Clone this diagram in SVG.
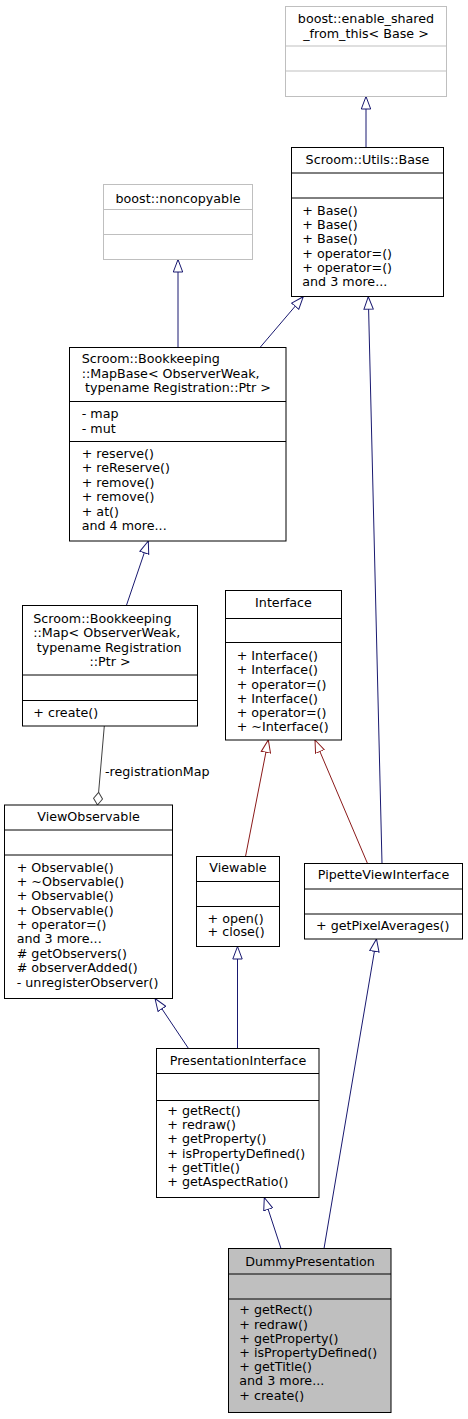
<svg xmlns="http://www.w3.org/2000/svg" width="468" height="1419" viewBox="0 0 468 1419">
<style>
  text { font-family: "DejaVu Sans", "Liberation Sans", sans-serif; font-size: 12.7px; fill: #000; }
  .c { text-anchor: middle; }
  .box { fill: #fff; stroke: #000; stroke-width: 1; }
  .gbox { fill: #fff; stroke: #bfbfbf; stroke-width: 1; }
  .sel { fill: #bfbfbf; stroke: #000; stroke-width: 1; }
  .sep { stroke: #000; stroke-width: 1; }
  .gsep { stroke: #bfbfbf; stroke-width: 1; }
  .pub { fill: none; stroke: #191970; stroke-width: 1; marker-end: url(#triBlue); }
  .prv { fill: none; stroke: #8b1a1a; stroke-width: 1; marker-end: url(#triRed); }
  .use { fill: none; stroke: #404040; stroke-width: 1; marker-end: url(#diamond); }
</style>
<defs>
  <marker id="triBlue" viewBox="0 0 14 11" refX="13" refY="5.5" markerWidth="14" markerHeight="11" markerUnits="userSpaceOnUse" orient="auto">
    <path d="M0.5,0.8 L13,5.5 L0.5,10.2 z" fill="#fff" stroke="#191970" stroke-width="1"/>
  </marker>
  <marker id="triRed" viewBox="0 0 14 11" refX="13" refY="5.5" markerWidth="14" markerHeight="11" markerUnits="userSpaceOnUse" orient="auto">
    <path d="M0.5,0.8 L13,5.5 L0.5,10.2 z" fill="#fff" stroke="#8b1a1a" stroke-width="1"/>
  </marker>
  <marker id="diamond" viewBox="0 0 14 11" refX="13.2" refY="5.5" markerWidth="14" markerHeight="11" markerUnits="userSpaceOnUse" orient="auto">
    <path d="M0.5,5.5 L6.8,1 L13.2,5.5 L6.8,10 z" fill="#fff" stroke="#404040" stroke-width="1"/>
  </marker>
</defs>

<g id="connectors">
  <path class="pub" d="M366,147.5 L366,96.5"/>
  <path class="pub" d="M178,347.5 L178,259.5"/>
  <path class="pub" d="M260,347.5 L303.3,296.7"/>
  <path class="pub" d="M382,863.5 L368.3,296.7"/>
  <path class="pub" d="M126.4,605.5 L148.3,541"/>
  <path class="use" d="M104.3,726 L97.5,805"/>
  <text x="105" y="775.5">-registrationMap</text>
  <path class="prv" d="M245.5,856.5 L268.3,740"/>
  <path class="prv" d="M367.5,863.5 L315,740"/>
  <path class="pub" d="M188.5,1048.5 L155,998.5"/>
  <path class="pub" d="M237.5,1048.5 L237.5,946.5"/>
  <path class="pub" d="M281,1248.5 L264.3,1197.5"/>
  <path class="pub" d="M324,1248.5 L376.5,939"/>
</g>

<g id="enable_shared_from_this">
  <rect class="gbox" x="285.5" y="6.5" width="161" height="90"/>
  <line class="gsep" x1="285.5" y1="46" x2="446.5" y2="46"/>
  <line class="gsep" x1="285.5" y1="71" x2="446.5" y2="71"/>
  <text class="c" x="366" y="22.5">boost::enable_shared</text>
  <text class="c" x="366" y="37.5">_from_this&lt; Base &gt;</text>
</g>

<g id="Base">
  <rect class="box" x="291.5" y="147.5" width="152" height="149"/>
  <line class="sep" x1="291.5" y1="173" x2="443.5" y2="173"/>
  <line class="sep" x1="291.5" y1="198" x2="443.5" y2="198"/>
  <text class="c" x="367.5" y="164">Scroom::Utils::Base</text>
  <text x="302.3" y="214.5">+ Base()</text>
  <text x="302.3" y="229">+ Base()</text>
  <text x="302.3" y="243">+ Base()</text>
  <text x="302.3" y="257.5">+ operator=()</text>
  <text x="302.3" y="271.5">+ operator=()</text>
  <text x="302.3" y="286">and 3 more...</text>
</g>

<g id="noncopyable">
  <rect class="gbox" x="103.5" y="184.5" width="149" height="75"/>
  <line class="gsep" x1="103.5" y1="209.5" x2="252.5" y2="209.5"/>
  <line class="gsep" x1="103.5" y1="234.5" x2="252.5" y2="234.5"/>
  <text class="c" x="178" y="203">boost::noncopyable</text>
</g>

<g id="MapBase">
  <rect class="box" x="69.5" y="347.5" width="216.5" height="193.5"/>
  <line class="sep" x1="69.5" y1="401.5" x2="286" y2="401.5"/>
  <line class="sep" x1="69.5" y1="441.5" x2="286" y2="441.5"/>
  <text x="81.7" y="362.5">Scroom::Bookkeeping</text>
  <text x="81.7" y="377.5">::MapBase&lt; ObserverWeak,</text>
  <text x="85" y="392">typename Registration::Ptr &gt;</text>
  <text x="81.7" y="417.5">- map</text>
  <text x="81.7" y="432.5">- mut</text>
  <text x="81.7" y="457.5">+ reserve()</text>
  <text x="81.7" y="472">+ reReserve()</text>
  <text x="81.7" y="486.5">+ remove()</text>
  <text x="81.7" y="501">+ remove()</text>
  <text x="81.7" y="515.5">+ at()</text>
  <text x="81.7" y="530">and 4 more...</text>
</g>

<g id="Map">
  <rect class="box" x="22.5" y="605.5" width="175" height="120.5"/>
  <line class="sep" x1="22.5" y1="675" x2="197.5" y2="675"/>
  <line class="sep" x1="22.5" y1="700.5" x2="197.5" y2="700.5"/>
  <text x="33.3" y="622.5">Scroom::Bookkeeping</text>
  <text x="33.3" y="637">::Map&lt; ObserverWeak,</text>
  <text x="36.7" y="651.5">typename Registration</text>
  <text class="c" x="110" y="666">::Ptr &gt;</text>
  <text x="33.3" y="716.5">+ create()</text>
</g>

<g id="ViewObservable">
  <rect class="box" x="4.5" y="805" width="168" height="193.5"/>
  <line class="sep" x1="4.5" y1="830" x2="172.5" y2="830"/>
  <line class="sep" x1="4.5" y1="855" x2="172.5" y2="855"/>
  <text class="c" x="88.5" y="820.5">ViewObservable</text>
  <text x="16.7" y="871.5">+ Observable()</text>
  <text x="16.7" y="885.9">+ ~Observable()</text>
  <text x="16.7" y="900.3">+ Observable()</text>
  <text x="16.7" y="914.7">+ Observable()</text>
  <text x="16.7" y="929.1">+ operator=()</text>
  <text x="16.7" y="943.3">and 3 more...</text>
  <text x="16.7" y="957.7"># getObservers()</text>
  <text x="16.7" y="972.1"># observerAdded()</text>
  <text x="16.7" y="986.5">- unregisterObserver()</text>
</g>

<g id="Interface">
  <rect class="box" x="225.5" y="590.5" width="116" height="149.5"/>
  <line class="sep" x1="225.5" y1="618.5" x2="341.5" y2="618.5"/>
  <line class="sep" x1="225.5" y1="642.5" x2="341.5" y2="642.5"/>
  <text class="c" x="283.5" y="606.5">Interface</text>
  <text x="236.7" y="659.5">+ Interface()</text>
  <text x="236.7" y="674">+ Interface()</text>
  <text x="236.7" y="688.5">+ operator=()</text>
  <text x="236.7" y="702.5">+ Interface()</text>
  <text x="236.7" y="717">+ operator=()</text>
  <text x="236.7" y="731">+ ~Interface()</text>
</g>

<g id="Viewable">
  <rect class="box" x="196.5" y="856.5" width="83" height="90"/>
  <line class="sep" x1="196.5" y1="881.5" x2="279.5" y2="881.5"/>
  <line class="sep" x1="196.5" y1="906.5" x2="279.5" y2="906.5"/>
  <text class="c" x="238" y="871.5">Viewable</text>
  <text x="207.5" y="922.5">+ open()</text>
  <text x="207.5" y="936">+ close()</text>
</g>

<g id="PipetteViewInterface">
  <rect class="box" x="304.5" y="863.5" width="158" height="75.5"/>
  <line class="sep" x1="304.5" y1="889" x2="462.5" y2="889"/>
  <line class="sep" x1="304.5" y1="914" x2="462.5" y2="914"/>
  <text class="c" x="383.5" y="878.5">PipetteViewInterface</text>
  <text x="316" y="930">+ getPixelAverages()</text>
</g>

<g id="PresentationInterface">
  <rect class="box" x="156.5" y="1048.5" width="162.5" height="149"/>
  <line class="sep" x1="156.5" y1="1073.5" x2="319" y2="1073.5"/>
  <line class="sep" x1="156.5" y1="1100.5" x2="319" y2="1100.5"/>
  <text class="c" x="238" y="1065">PresentationInterface</text>
  <text x="167.3" y="1114.5">+ getRect()</text>
  <text x="167.3" y="1129">+ redraw()</text>
  <text x="167.3" y="1143">+ getProperty()</text>
  <text x="167.3" y="1157.5">+ isPropertyDefined()</text>
  <text x="167.3" y="1171.5">+ getTitle()</text>
  <text x="167.3" y="1186">+ getAspectRatio()</text>
</g>

<g id="DummyPresentation">
  <rect class="sel" x="228.5" y="1248.5" width="162.5" height="164"/>
  <line class="sep" x1="228.5" y1="1274" x2="391" y2="1274"/>
  <line class="sep" x1="228.5" y1="1299" x2="391" y2="1299"/>
  <text class="c" x="310" y="1265.5">DummyPresentation</text>
  <text x="239.3" y="1314">+ getRect()</text>
  <text x="239.3" y="1328.5">+ redraw()</text>
  <text x="239.3" y="1342.5">+ getProperty()</text>
  <text x="239.3" y="1357">+ isPropertyDefined()</text>
  <text x="239.3" y="1371">+ getTitle()</text>
  <text x="239.3" y="1385">and 3 more...</text>
  <text x="239.3" y="1400">+ create()</text>
</g>
</svg>
